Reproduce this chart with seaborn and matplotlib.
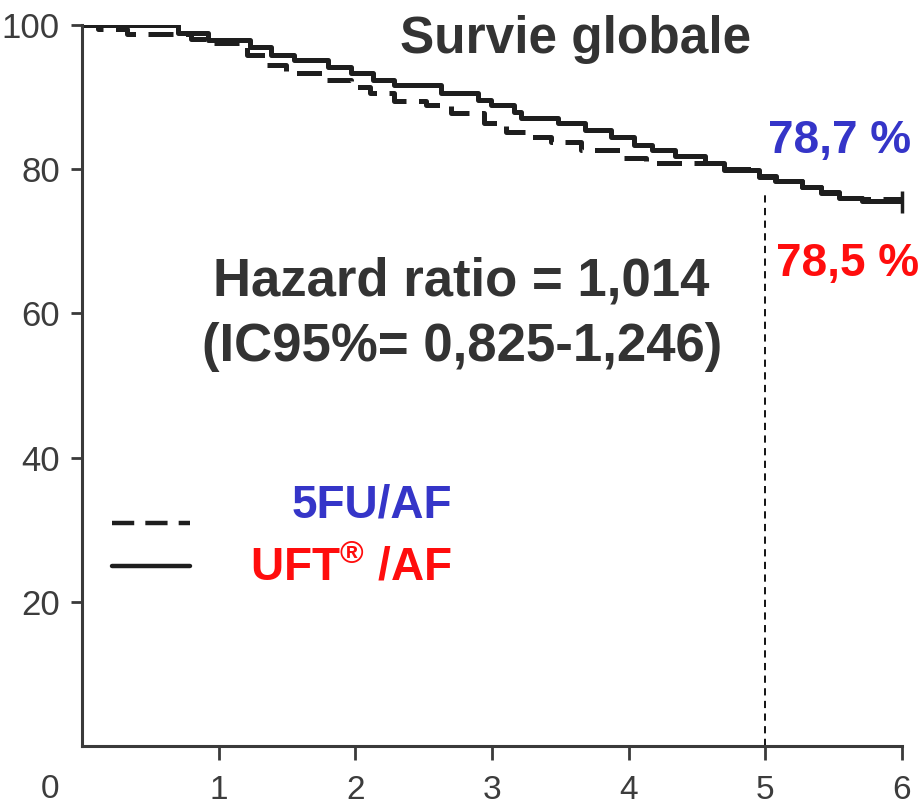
import numpy as np
import pandas as pd
import matplotlib
matplotlib.use("Agg")
import matplotlib.pyplot as plt
import seaborn as sns
from matplotlib.lines import Line2D

# ---- data ----
uft_time = [0.0, 0.70, 0.92, 1.23, 1.38, 1.55, 1.80, 1.97, 2.13, 2.28, 2.63, 2.90, 2.99,
            3.16, 3.21, 3.48, 3.68, 3.87, 4.04, 4.17, 4.34, 4.56, 4.70, 4.95, 5.07,
            5.27, 5.41, 5.54, 5.71, 6.0]
uft_surv = [100.0, 98.9, 97.9, 97.0, 95.8, 95.1, 94.2, 93.3, 92.4, 91.7, 90.6, 89.6, 88.9,
            87.9, 87.1, 86.4, 85.4, 84.4, 83.3, 82.6, 81.9, 80.8, 79.9, 78.9, 78.3,
            77.5, 76.7, 76.0, 75.6, 75.4]

fu_time = [0.0, 0.12, 0.33, 0.80, 0.95, 1.21, 1.34, 1.49, 1.78, 1.97, 2.11, 2.28, 2.52,
           2.70, 2.94, 3.10, 3.29, 3.43, 3.65, 3.95, 4.13, 4.70, 4.95, 5.08, 5.27,
           5.41, 5.54, 5.71, 6.0]
fu_surv = [100.0, 99.4, 98.7, 98.1, 97.5, 95.8, 94.4, 93.3, 92.4, 91.4, 90.6, 89.5, 88.9,
           87.8, 86.4, 85.2, 84.5, 83.8, 82.6, 81.5, 80.8, 80.0, 79.0, 78.4, 77.6,
           76.8, 76.0, 75.8, 75.8]

x_ticks = [1, 2, 3, 4, 5, 6]
y_ticks = [20, 40, 60, 80, 100]
landmark_year = 5
landmark_surv = 77.0

title = "Survie globale"
hr_line1 = "Hazard ratio = 1,014"
hr_line2 = "(IC95%= 0,825-1,246)"
lab_5fu = "5FU/AF"
lab_uft = "UFT$^{®}$ /AF"
pct_5fu = "78,7 %"
pct_uft = "78,5 %"

BLUE = "#3535c8"
RED = "#ff0d0d"
DARK = "#333333"
LINE = "#1e1e1e"

sns.set_style("white")
plt.rcParams["font.family"] = ["Liberation Sans", "DejaVu Sans"]
plt.rcParams["mathtext.fontset"] = "custom"
plt.rcParams["mathtext.rm"] = "Liberation Sans:bold"
plt.rcParams["mathtext.default"] = "rm"

W, H = 921, 805
fig = plt.figure(figsize=(W / 100, H / 100), dpi=100)
ax = fig.add_axes([82 / W, 1 - 746 / H, 820 / W, 721 / H])

df_uft = pd.DataFrame({"t": uft_time, "s": uft_surv})
df_fu = pd.DataFrame({"t": fu_time, "s": fu_surv})

sns.lineplot(data=df_uft, x="t", y="s", ax=ax, drawstyle="steps-post", estimator=None,
             sort=False, color=LINE, lw=3.6, solid_capstyle="butt")
sns.lineplot(data=df_fu, x="t", y="s", ax=ax, drawstyle="steps-post", estimator=None,
             sort=False, color=LINE, lw=3.6, linestyle=(0, (5, 2.5)))

# censor tick at end of follow-up
ax.plot([uft_time[-1]], [uft_surv[-1]], marker="|", ms=16, mew=2.5, color=LINE, clip_on=False)

# landmark line at 5 years
ax.vlines(landmark_year, 0, landmark_surv, colors="black", linestyles=(0, (4, 3)), lw=1.3)

ax.set_xlim(0, 6)
ax.set_ylim(0, 100)
ax.set_xticks(x_ticks)
ax.set_yticks(y_ticks)
ax.set_xticklabels([str(v) for v in x_ticks])
ax.set_yticklabels([str(v) for v in y_ticks])
ax.set_xlabel("")
ax.set_ylabel("")
for side in ["top", "right"]:
    ax.spines[side].set_visible(False)
for side in ["left", "bottom"]:
    ax.spines[side].set_color("#3a3a3a")
    ax.spines[side].set_linewidth(2.2)
ax.tick_params(axis="x", length=10, width=2, color="#3a3a3a", pad=11, labelsize=24,
               labelcolor="#3c3c3c", direction="out", bottom=True)
ax.tick_params(axis="y", length=8, width=2, color="#3a3a3a", pad=8, labelsize=25,
               labelcolor="#3c3c3c", direction="out", left=True)

fig.text(50 / W, 1 - 789 / H, "0", fontsize=24, color="#3c3c3c", ha="center", va="center")

# texts
fig.text(576 / W, 1 - 53 / H, title, fontsize=37, fontweight="bold", color=DARK,
         ha="center", va="baseline")
fig.text(461 / W, 1 - 281 / H, hr_line1, fontsize=38, fontweight="bold", color=DARK,
         ha="center", va="center")
fig.text(462 / W, 1 - 347 / H, hr_line2, fontsize=38, fontweight="bold", color=DARK,
         ha="center", va="center")
fig.text(768 / W, 1 - 153 / H, pct_5fu, fontsize=33, fontweight="bold", color=BLUE,
         ha="left", va="baseline")
fig.text(776 / W, 1 - 276 / H, pct_uft, fontsize=33, fontweight="bold", color=RED,
         ha="left", va="baseline")

# legend
fig.add_artist(Line2D([112 / W, 190 / W], [1 - 523 / H, 1 - 523 / H], color=LINE, lw=3.2,
                      linestyle=(0, (5, 2.5)), transform=fig.transFigure))
fig.add_artist(Line2D([112 / W, 190 / W], [1 - 566 / H, 1 - 566 / H], color=LINE, lw=3.2,
                      transform=fig.transFigure))
fig.text(452 / W, 1 - 518 / H, lab_5fu, fontsize=33, fontweight="bold", color=BLUE,
         ha="right", va="baseline")
fig.text(452 / W, 1 - 580 / H, lab_uft, fontsize=33, fontweight="bold", color=RED,
         ha="right", va="baseline")

fig.savefig("out.png", dpi=100)
